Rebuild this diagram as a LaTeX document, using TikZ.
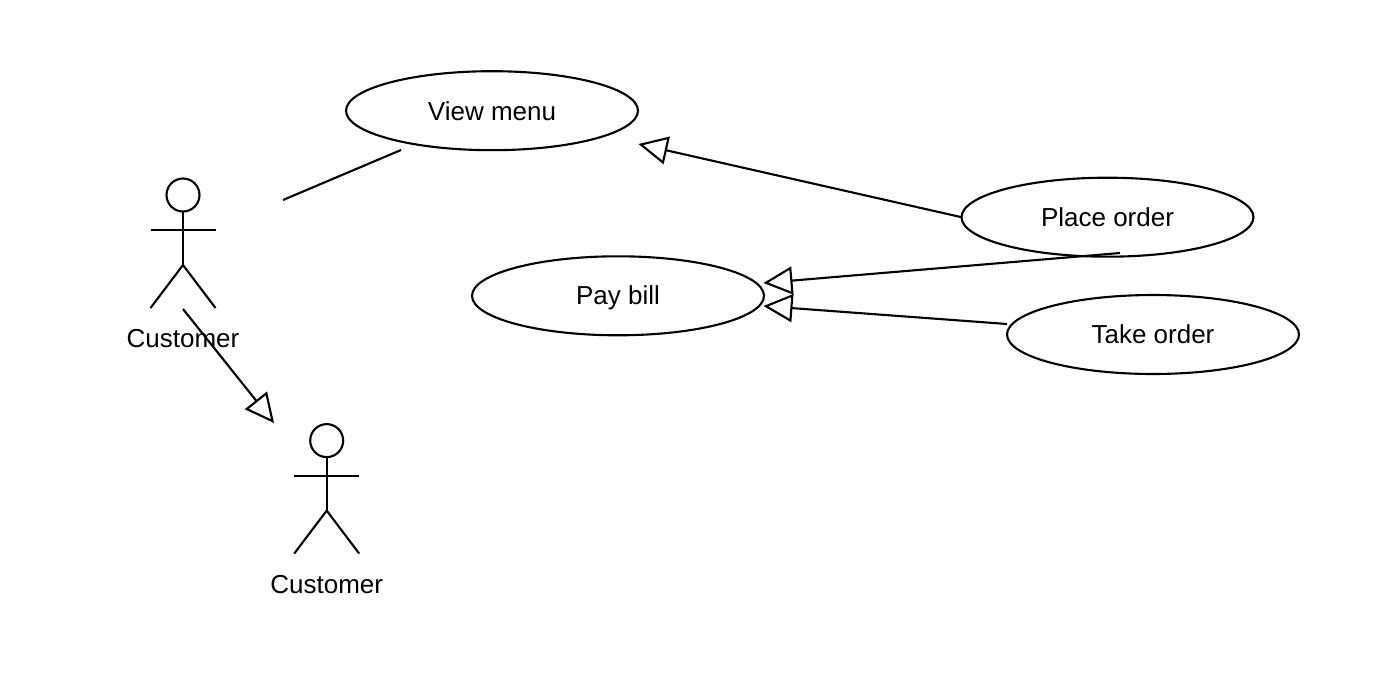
\documentclass[tikz,border=0pt]{standalone}
\usepackage{fontspec}
\setmainfont{Liberation Sans}
\usetikzlibrary{shapes.geometric,arrows.meta}

\tikzset{
    usecase/.style={ellipse, draw, minimum width=5.84cm, minimum height=1.58cm, inner sep=0pt, outer sep=0pt, text height=0.4cm, text depth=0.06cm},
    extends/.style={-{Triangle[open, length=0.58cm, width=0.56cm]}},
    actor/.pic={
        \node[circle, draw, minimum size=0.66cm, inner sep=0pt, outer sep=0pt] (-head) at (0,0) {};
        \draw (-head.south) -- (0,70);
        \draw (-32.5,35) -- (32.5,35);
        \draw (-32.5,113) -- (0,70) -- (32.5,113);
        \node (-label) at (0,144) {Customer};
    }
}

\begin{document}
\begin{tikzpicture}[x=0.02cm, y=-0.02cm, line width=1.2pt, every node/.style={font=\fontsize{14.8}{18}\selectfont}]
    \useasboundingbox (0,0) rectangle (1392,686);

    % Use cases
    \node[usecase] (view_menu) at (492,110.7) {\raisebox{-0.5pt}{View menu}};
    \node[usecase] (place_order) at (1107.5,217.2) {\raisebox{-0.5pt}{Place order}};
    \node[usecase] (pay_bill) at (618,295.8) {Pay bill};
    \node[usecase] (take_order) at (1153,334.5) {Take order};

    % Actors
    \pic (customer_top) at (183,195) {actor};
    \pic (customer_low) at (326.7,440.6) {actor};

    % Free ends
    \coordinate (assoc_start) at (283,200);
    \coordinate (assoc_end) at (401,150);
    \coordinate (actor_start) at (183,309);
    \coordinate (actor_end) at (274,423);
    \coordinate (view_tip) at (638.5,144);
    \coordinate (pay_tip_a) at (763.5,283);
    \coordinate (pay_tip_b) at (763.5,306);
    \coordinate (place_start) at (1120,253);
    \coordinate (take_start) at (1007,324);

    % Connectors
    \draw (assoc_start) -- (assoc_end);
    \draw[extends] (actor_start) -- (actor_end);
    \draw[extends] (place_order.west) -- (view_tip);
    \draw[extends] (place_start) -- (pay_tip_a);
    \draw[extends] (take_start) -- (pay_tip_b);
\end{tikzpicture}
\end{document}
